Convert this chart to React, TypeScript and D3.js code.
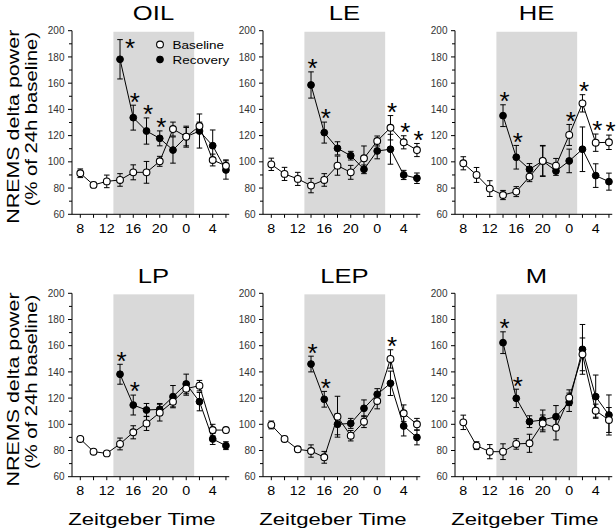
import React from "react";
import * as d3 from "d3";

// ---------- data ----------
const ZT_BASE = [8, 10, 12, 14, 16, 18, 20, 22, 24, 26, 28, 30];
const ZT_REC = [14, 16, 18, 20, 22, 24, 26, 28, 30];
const X_TICK_LABELS = ["8", "12", "16", "20", "0", "4"];
const X_TICK_VALUES = [8, 12, 16, 20, 24, 28];
const Y_TICKS = [60, 80, 100, 120, 140, 160, 180, 200];
const DARK_START = 13;
const DARK_END = 25.2;

const oilBase = [91.3, 82.4, 85.1, 86.2, 92, 92, 100.4, 125, 119.2, 127.3, 101.4, 97];
const oilBaseErr = [3.3, 2, 4.8, 4.8, 5.7, 8.3, 3.8, 5.3, 8, 3, 4.5, 4.5];
const oilRec = [178.2, 133.7, 123.5, 117.9, 109, 119.2, 123.5, 112.3, 93.8];
const oilRecErr = [15, 9.5, 10, 5.7, 10, 7, 13, 12, 7];
const oilStars = [14, 16, 18, 20];

const leBase = [98.1, 90.8, 87, 81.9, 86.2, 97.1, 92, 102.7, 115.9, 126, 114.9, 109];
const leBaseErr = [4.7, 5, 5, 5.5, 4.8, 7.3, 5.3, 9.4, 3.8, 9.3, 5, 5];
const leRec = [158.6, 122.3, 110.3, 104.7, 94.3, 108.3, 109.6, 90, 87.5];
const leRecErr = [10, 8, 5, 3.3, 3.3, 6, 11.4, 3.5, 4];
const leStars = [14, 16, 26, 28, 30];

const heBase = [98.9, 90, 79.6, 74.7, 77.3, 88.7, 100.7, 97.1, 120.5, 144.6, 114.6, 114.9];
const heBaseErr = [5, 5.7, 6, 3.5, 3.8, 3.8, 11.8, 5.5, 8, 6.6, 6.6, 5.5];
const heRec = [135.2, 103.5, 94.3, 100.7, 93, 100.7, 109.6, 89.5, 84.9];
const heRecErr = [8.3, 9, 4.4, 11.4, 3.3, 9, 17, 9, 6.5];
const heStars = [14, 16, 24, 26, 28, 30];

const lpBase = [88.8, 79.1, 77.8, 85, 93.9, 100.7, 108.9, 117.3, 127.2, 129.5, 95.6, 95.6];
const lpBaseErr = [1.5, 1.5, 1.5, 4.5, 5, 5.4, 6.4, 4, 5, 4, 4.4, 2];
const lpRec = [138.2, 114.7, 110.9, 111.4, 121.1, 130.8, 117.3, 88.8, 83.7];
const lpRecErr = [7.6, 7.6, 5, 4.5, 8.5, 7.5, 7, 4.2, 3];
const lpStars = [14, 16];

const lepBase = [99.5, 88.8, 80.9, 79.6, 74.8, 105.8, 91.3, 102, 117.8, 149.9, 108.4, 100];
const lepBaseErr = [3, 2, 2, 4.7, 4.5, 15.6, 4, 4.5, 6, 7, 6.4, 4.5];
const lepRec = [146, 119.1, 100, 100.7, 112.2, 122.9, 131.3, 98.7, 90];
const lepRecErr = [6, 6, 8, 3.8, 6.4, 4.3, 9.3, 7.6, 5.7];
const lepStars = [14, 16, 26];

const mBase = [101.5, 83.7, 79.1, 79.1, 85, 85.5, 100.7, 97.4, 120.3, 153.4, 110.4, 103.3];
const mBaseErr = [5.5, 3, 5.4, 6, 4, 6.9, 6.4, 9.3, 6, 12.5, 5, 9.5];
const mRec = [162.3, 119.8, 102, 103.3, 105.8, 116.8, 157.2, 121.1, 107.1];
const mRecErr = [8.3, 7, 4.5, 7.6, 8.5, 7, 19, 16.5, 15.3];
const mStars = [14, 16];

const PANELS = [
  { title: "OIL", base: oilBase, baseErr: oilBaseErr, rec: oilRec, recErr: oilRecErr, stars: oilStars, legend: true },
  { title: "LE", base: leBase, baseErr: leBaseErr, rec: leRec, recErr: leRecErr, stars: leStars },
  { title: "HE", base: heBase, baseErr: heBaseErr, rec: heRec, recErr: heRecErr, stars: heStars },
  { title: "LP", base: lpBase, baseErr: lpBaseErr, rec: lpRec, recErr: lpRecErr, stars: lpStars },
  { title: "LEP", base: lepBase, baseErr: lepBaseErr, rec: lepRec, recErr: lepRecErr, stars: lepStars },
  { title: "M", base: mBase, baseErr: mBaseErr, rec: mRec, recErr: mRecErr, stars: mStars },
];

// ---------- layout ----------
const W = 616;
const H = 532;
const LEFTS = [72, 263, 455];
const ROW_TOP = [30.7, 293.3];
const ROW_BOTTOM = [214.3, 476.7];
const FONT = "'Liberation Sans', Arial, Helvetica, sans-serif";
const PX_PER_H = 6.62;
const X0 = 8 - 8.3 / PX_PER_H;
const X1 = 30.5;

function Panel({ p, idx }: { p: any; idx: number }) {
  const col = idx % 3;
  const row = Math.floor(idx / 3);
  const left = LEFTS[col];
  const x = d3.scaleLinear().domain([X0, X1]).range([left, left + (X1 - X0) * PX_PER_H]);
  const y = d3.scaleLinear().domain([60, 200]).range([ROW_BOTTOM[row], ROW_TOP[row]]);
  const line = d3.line<[number, number]>().x((d) => x(d[0])).y((d) => y(d[1]));
  const basePts: [number, number][] = ZT_BASE.map((t, i) => [t, p.base[i]]);
  const recPts: [number, number][] = ZT_REC.map((t, i) => [t, p.rec[i]]);
  const minorY = d3.range(60, 201, 10);
  const xTicks = d3.range(8, 31, 2);
  const r = 3.4;
  const cap = 2.8;

  const errBar = (t: number, v: number, e: number, k: string) => (
    <g key={k} stroke="#000" strokeWidth={1}>
      <line x1={x(t)} x2={x(t)} y1={y(v + e)} y2={y(v - e)} />
      <line x1={x(t) - cap} x2={x(t) + cap} y1={y(v + e)} y2={y(v + e)} />
      <line x1={x(t) - cap} x2={x(t) + cap} y1={y(v - e)} y2={y(v - e)} />
    </g>
  );

  const stars = p.stars.map((t: number, i: number) => {
    const bi = ZT_BASE.indexOf(t);
    const ri = ZT_REC.indexOf(t);
    let top = -Infinity;
    if (bi >= 0) top = Math.max(top, p.base[bi] + p.baseErr[bi]);
    if (ri >= 0) top = Math.max(top, p.rec[ri] + p.recErr[ri]);
    const topPx = y(top);
    let cx = x(t) + 1.5;
    let cy = topPx - 9.5;
    if (cy < y(200) + 6) {
      cx = x(t) + 10;
      cy = topPx + 2.5;
    }
    const fs = 26;
    return (
      <text key={"s" + i} x={cx} y={cy + 0.57 * fs} fontSize={fs} textAnchor="middle" fontFamily={FONT} fill="#000">
        *
      </text>
    );
  });

  return (
    <g>
      <rect x={x(DARK_START)} width={x(DARK_END) - x(DARK_START)} y={y(199.2)} height={y(60) - y(199.2)} fill="#d9d9d9" />
      {/* y axis */}
      <line x1={left} x2={left} y1={y(200)} y2={y(60)} stroke="#000" strokeWidth={1} />
      {minorY.map((v) => (
        <line key={"yt" + v} x1={left - (v % 20 === 0 ? 4 : 3)} x2={left} y1={y(v)} y2={y(v)} stroke="#000" strokeWidth={1} />
      ))}
      {Y_TICKS.map((v) => (
        <text key={"yl" + v} x={left - 7.5} y={y(v)} dy="0.36em" fontSize={10} textAnchor="end" fontFamily={FONT} fill="#333">
          {v}
        </text>
      ))}
      {/* x axis */}
      <line x1={left} x2={x(X1)} y1={y(60)} y2={y(60)} stroke="#000" strokeWidth={1} />
      {xTicks.map((t) => (
        <line key={"xt" + t} x1={x(t)} x2={x(t)} y1={y(60)} y2={y(60) + 3.5} stroke="#000" strokeWidth={1} />
      ))}
      {X_TICK_VALUES.map((t, i) => (
        <text key={"xl" + t} transform={`translate(${x(t)},${y(60) + 18.5}) scale(1.1,1)`} fontSize={13} textAnchor="middle" fontFamily={FONT} fill="#000">
          {X_TICK_LABELS[i]}
        </text>
      ))}
      {/* title */}
      <text transform={`translate(${left + 81.5},${20 + row * 262.7}) scale(1.22,1)`} fontSize={21} textAnchor="middle" fontFamily={FONT} fill="#000">
        {p.title}
      </text>
      {row === 1 && (
        <text transform={`translate(${left + 70},525) scale(1.3,1)`} fontSize={17} textAnchor="middle" fontFamily={FONT} fill="#000">
          Zeitgeber Time
        </text>
      )}
      {/* lines */}
      <path d={line(recPts) || ""} fill="none" stroke="#000" strokeWidth={1} />
      <path d={line(basePts) || ""} fill="none" stroke="#000" strokeWidth={1} />
      {ZT_REC.map((t, i) => errBar(t, p.rec[i], p.recErr[i], "re" + i))}
      {ZT_BASE.map((t, i) => errBar(t, p.base[i], p.baseErr[i], "be" + i))}
      {ZT_REC.map((t, i) => (
        <circle key={"rc" + i} cx={x(t)} cy={y(p.rec[i])} r={r} fill="#000" stroke="#000" strokeWidth={1} />
      ))}
      {ZT_BASE.map((t, i) => (
        <circle key={"bc" + i} cx={x(t)} cy={y(p.base[i])} r={r} fill="#fff" stroke="#000" strokeWidth={1.1} />
      ))}
      {stars}
      {p.legend && (
        <g fontFamily={FONT} fontSize={11.6} fill="#000">
          <circle cx={160} cy={44.5} r={3.4} fill="#fff" stroke="#000" strokeWidth={1.1} />
          <circle cx={160} cy={59.5} r={3.4} fill="#000" stroke="#000" strokeWidth={1} />
          <text transform="translate(172.5,49) scale(1.16,1)">Baseline</text>
          <text transform="translate(172.5,63.5) scale(1.16,1)">Recovery</text>
        </g>
      )}
    </g>
  );
}

export default function App() {
  return (
    <svg width={W} height={H} viewBox={`0 0 ${W} ${H}`} style={{ position: "absolute", left: 0, top: 0, background: "#fff" }}>
      <rect width={W} height={H} fill="#fff" />
      {[0, 1].map((row) => (
        <g key={"yt" + row} fontFamily={FONT} fontSize={17} fill="#000">
          <text transform={`translate(19,${126.7 + row * 262.7}) rotate(-90) scale(1.26,1)`} textAnchor="middle">
            NREMS delta power
          </text>
          <text transform={`translate(37,${119.2 + row * 262.7}) rotate(-90) scale(1.19,1)`} textAnchor="middle">
            (% of 24h baseline)
          </text>
        </g>
      ))}
      {PANELS.map((p, i) => (
        <Panel key={p.title} p={p} idx={i} />
      ))}
    </svg>
  );
}
